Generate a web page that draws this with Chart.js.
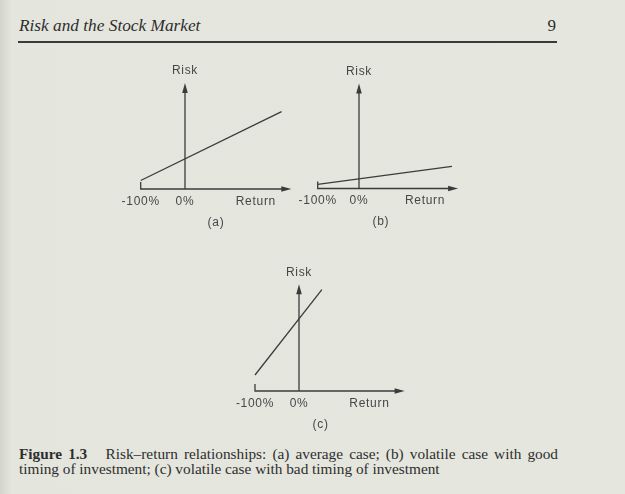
<!DOCTYPE html>
<html>
<head>
<meta charset="utf-8">
<script src="https://cdn.jsdelivr.net/npm/chart.js@4.4.0/dist/chart.umd.min.js"></script>
<style>
  body { margin: 0; width: 625px; height: 494px; overflow: hidden; position: relative;
         background: linear-gradient(to right, #d3d4cc 0px, #dcddd5 6px, #e4e5dd 12px, #e5e6de 100%); }
  .serif { position: absolute; font-family: "Liberation Serif", "Times New Roman", serif; color: #2e2e2e; white-space: nowrap; }
  #head { left: 19px; top: 16px; font-size: 17.3px; font-style: italic; line-height: 20px; }
  #page { left: 520px; width: 36px; top: 16px; font-size: 17px; line-height: 20px; text-align: right; }
  #rule { position: absolute; left: 18px; width: 539px; top: 41px; height: 1.5px; background: #3a3a3a; }
  canvas { position: absolute; }
  #cap1 { left: 19px; top: 446px; width: 539px; font-size: 15.3px; line-height: 16px; text-align: justify; text-align-last: justify; }
  #cap2 { left: 19px; top: 461px; font-size: 15.3px; line-height: 16px; }
</style>
</head>
<body>
<div id="head" class="serif">Risk and the Stock Market</div>
<div id="page" class="serif">9</div>
<div id="rule"></div>
<canvas id="chartA" width="230" height="195" style="left:95px;top:48px"></canvas>
<canvas id="chartB" width="215" height="195" style="left:272px;top:48px"></canvas>
<canvas id="chartC" width="225" height="195" style="left:210px;top:249px"></canvas>
<div id="cap1" class="serif"><b>Figure 1.3</b>&nbsp;&nbsp; Risk–return relationships: (a) average case; (b) volatile case with good</div>
<div id="cap2" class="serif">timing of investment; (c) volatile case with bad timing of investment</div>
<script>
// axis ticks and labels
const returnTicks = [-100, 0, 160];
const tickLabels = ['-100%', '0%', 'Return'];
const axisTitle = 'Risk';
const returnMin = -100;
const returnMax = 240;
const riskMax = 100;

// panel captions and where they sit on the return axis
const panelNames = ['(a)', '(b)', '(c)'];
const panelLabelAt = [70, 53, 49];

// the three risk-return lines
const returnA = [-100, 218];
const riskA = [8, 73];
const returnB = [-100, 225];
const riskB = [4, 21];
const returnC = [-100, 52];
const riskC = [15, 95];

const ink = '#3b3b3b';
const labelInk = '#474747';

const axesArrows = {
    id: 'axesArrows',
    beforeDatasetsDraw(chart, args, opts) {
        const { ctx } = chart;
        const x = chart.scales.x, y = chart.scales.y;
        const x0 = x.getPixelForValue(0);
        const xL = x.getPixelForValue(returnMin);
        const xR = x.getPixelForValue(returnMax);
        const y0 = y.getPixelForValue(0);
        const yT = y.getPixelForValue(riskMax);

        ctx.save();
        ctx.strokeStyle = ink;
        ctx.lineWidth = 1.3;
        ctx.beginPath();
        ctx.moveTo(xL, y0 - 7);
        ctx.lineTo(xL, y0);
        ctx.lineTo(xR - 6, y0);
        ctx.moveTo(x0, y0);
        ctx.lineTo(x0, yT + 6);
        ctx.stroke();

        // arrow heads
        ctx.fillStyle = ink;
        ctx.beginPath();
        ctx.moveTo(xR, y0);
        ctx.lineTo(xR - 10, y0 - 2.8);
        ctx.lineTo(xR - 10, y0 + 2.8);
        ctx.closePath();
        ctx.fill();
        ctx.beginPath();
        ctx.moveTo(x0, yT);
        ctx.lineTo(x0 - 2.8, yT + 10);
        ctx.lineTo(x0 + 2.8, yT + 10);
        ctx.closePath();
        ctx.fill();

        // labels
        ctx.fillStyle = labelInk;
        ctx.font = '12px "Liberation Sans", Arial, sans-serif';
        ctx.letterSpacing = '0.7px';
        ctx.textAlign = 'center';
        ctx.textBaseline = 'middle';
        returnTicks.forEach((v, i) => ctx.fillText(tickLabels[i], x.getPixelForValue(v), y0 + 12.5));
        ctx.fillText(axisTitle, x0, yT - 12);
        ctx.fillText(opts.panel, x.getPixelForValue(opts.panelAt), y0 + 33.5);
        ctx.restore();
    }
};

function makeChart(id, returns, risks, idx, padding) {
    return new Chart(document.getElementById(id), {
        type: 'line',
        data: {
            datasets: [{
                data: returns.map((r, i) => ({ x: r, y: risks[i] })),
                borderColor: ink,
                borderWidth: 1.3,
                pointRadius: 0,
                tension: 0,
                clip: false
            }]
        },
        options: {
            responsive: false,
            animation: false,
            layout: { padding: padding },
            plugins: {
                legend: false,
                tooltip: { enabled: false },
                axesArrows: { panel: panelNames[idx], panelAt: panelLabelAt[idx] }
            },
            scales: {
                x: { type: 'linear', min: returnMin, max: returnMax, display: false },
                y: { type: 'linear', min: 0, max: riskMax, display: false }
            }
        },
        plugins: [axesArrows]
    });
}

makeChart('chartA', returnA, riskA, 0, { left: 45.7, right: 33.7, top: 35, bottom: 54 });
makeChart('chartB', returnB, riskB, 1, { left: 45.7, right: 28.9, top: 35.5, bottom: 54.5 });
makeChart('chartC', returnC, riskC, 2, { left: 45, right: 30.4, top: 35.3, bottom: 53 });
</script>
</body>
</html>
